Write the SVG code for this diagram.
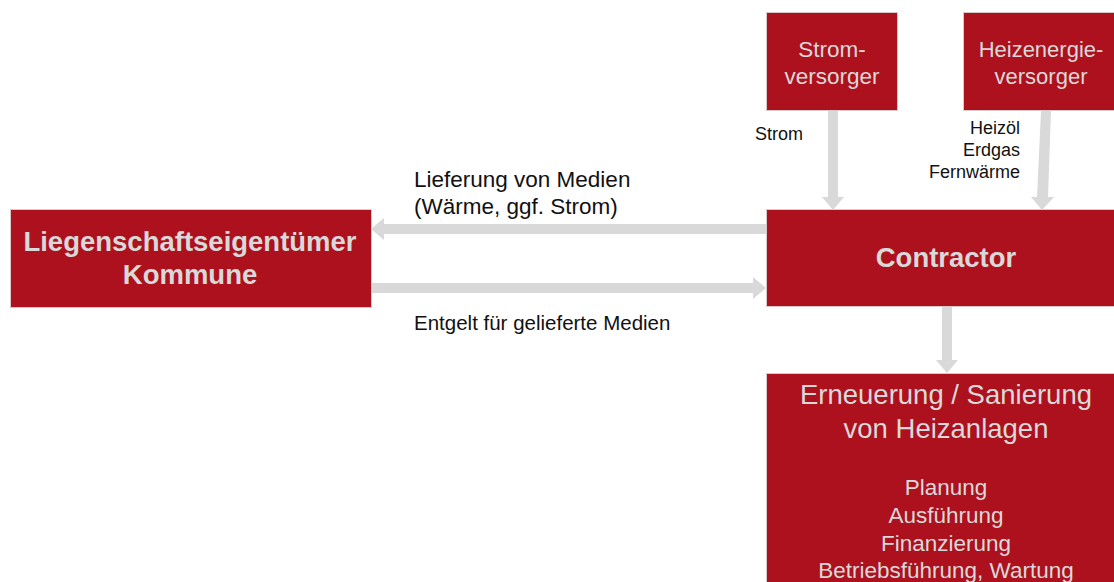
<svg xmlns="http://www.w3.org/2000/svg" width="1114" height="582" viewBox="0 0 1114 582">
  <style>
    .box { fill: #AE111E; stroke: #D9C9CB; stroke-width: 1; }
    .wt { fill: #D9D9D9; font-family: "Liberation Sans", Arial, sans-serif; text-anchor: middle; }
    .b { font-weight: bold; }
    .lbl { fill: #111111; font-family: "Liberation Sans", Arial, sans-serif; }
    .arr { fill: #D9D9D9; }
  </style>
  <rect width="1114" height="582" fill="#FFFFFF"/>

  <g id="stromversorger">
    <rect class="box" x="766.5" y="12.5" width="131" height="98"/>
    <text class="wt" x="832" y="57" font-size="22.5">Strom-</text>
    <text class="wt" x="832" y="84" font-size="22.5">versorger</text>
  </g>

  <g id="heizenergieversorger">
    <rect class="box" x="963.5" y="12.5" width="160" height="98"/>
    <text class="wt" x="1041" y="57" font-size="22">Heizenergie-</text>
    <text class="wt" x="1041" y="84" font-size="22">versorger</text>
  </g>

  <g id="liegenschaftseigentuemer">
    <rect class="box" x="10.5" y="209.5" width="361" height="98"/>
    <text class="wt b" x="190" y="251" font-size="27.5">Liegenschaftseigentümer</text>
    <text class="wt b" x="190" y="284" font-size="27.5">Kommune</text>
  </g>

  <g id="contractor">
    <rect class="box" x="766.5" y="209.5" width="360" height="97"/>
    <text class="wt b" x="946" y="267" font-size="27.5">Contractor</text>
  </g>

  <g id="erneuerung">
    <rect class="box" x="766.5" y="373.5" width="360" height="220"/>
    <text class="wt" x="946" y="404" font-size="27.5">Erneuerung / Sanierung</text>
    <text class="wt" x="946" y="438" font-size="27.5">von Heizanlagen</text>
    <text class="wt" x="946" y="495" font-size="22.5">Planung</text>
    <text class="wt" x="946" y="523" font-size="22.5">Ausführung</text>
    <text class="wt" x="946" y="551" font-size="22.5">Finanzierung</text>
    <text class="wt" x="946" y="578" font-size="22.5">Betriebsführung, Wartung</text>
  </g>

  <g id="connectors">
    <!-- Stromversorger to Contractor -->
    <polygon class="arr" points="828,111 838,111 838,197 844,197 833,210 822,197 828,197"/>
    <!-- Heizenergieversorger to Contractor (slight slant) -->
    <polygon class="arr" points="1041,111 1051,111 1048,197 1054,197 1042,210 1031,197 1037,197"/>
    <!-- Contractor to Erneuerung -->
    <polygon class="arr" points="942,307 952,307 952,360 958,360 947,373 936,360 942,360"/>
    <!-- Lieferung: Contractor to Kommune -->
    <polygon class="arr" points="766,224 766,234 384,234 384,240 371,229 384,218 384,224"/>
    <!-- Entgelt: Kommune to Contractor -->
    <polygon class="arr" points="372,283 753,283 753,277 766,288 753,299 753,293 372,293"/>
  </g>

  <g id="labels">
    <text class="lbl" x="755" y="140" font-size="18">Strom</text>
    <text class="lbl" x="1020" y="134" font-size="18" text-anchor="end">Heizöl</text>
    <text class="lbl" x="1020" y="156" font-size="18" text-anchor="end">Erdgas</text>
    <text class="lbl" x="1020" y="178" font-size="18" text-anchor="end">Fernwärme</text>
    <text class="lbl" x="414" y="187" font-size="22.5">Lieferung von Medien</text>
    <text class="lbl" x="414" y="214" font-size="22.5">(Wärme, ggf. Strom)</text>
    <text class="lbl" x="414" y="330" font-size="20.5">Entgelt für gelieferte Medien</text>
  </g>
</svg>
